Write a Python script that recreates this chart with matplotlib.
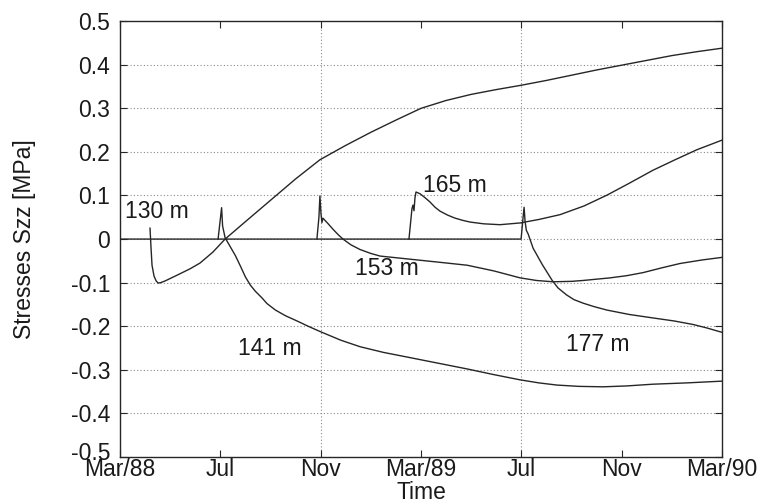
import matplotlib
matplotlib.use('Agg')
import matplotlib.pyplot as plt
from matplotlib.transforms import ScaledTranslation

plt.rcParams['font.family'] = ['Liberation Sans', 'DejaVu Sans']
plt.rcParams['font.size'] = 16.5

# x = months since March 1988
tick_pos = [0, 4, 8, 12, 16, 20, 24]
tick_labels = ['Mar/88', 'Jul', 'Nov', 'Mar/89', 'Jul', 'Nov', 'Mar/90']
ytick_vals = [-0.5, -0.4, -0.3, -0.2, -0.1, 0, 0.1, 0.2, 0.3, 0.4, 0.5]
ytick_labels = ['-0.5', '-0.4', '-0.3', '-0.2', '-0.1', '0', '0.1', '0.2', '0.3', '0.4', '0.5']

t130 = [1.196, 1.236, 1.276, 1.356, 1.44, 1.52, 1.62, 1.8, 2.27, 2.8, 3.19, 3.7, 4.19,
        5.0, 6.0, 7.0, 7.97, 9.0, 10.0, 11.0, 12.0, 13.0, 14.0, 15.0, 16.0,
        17.0, 18.0, 19.0, 20.0, 21.0, 22.0, 23.0, 24.0]
s130 = [0.025, -0.02, -0.06, -0.085, -0.096, -0.101, -0.1, -0.096, -0.083, -0.068, -0.055, -0.03, 0.0,
        0.04, 0.089, 0.138, 0.182, 0.215, 0.245, 0.273, 0.300, 0.318, 0.332, 0.343, 0.353,
        0.364, 0.376, 0.388, 0.399, 0.410, 0.421, 0.430, 0.438]

t141 = [3.91, 4.05, 4.09, 4.19, 4.4, 4.6, 4.8, 5.0, 5.2, 5.4, 5.66, 5.86, 6.2, 6.6,
        7.06, 7.5, 7.97, 8.8, 9.57, 10.5, 11.56, 12.7, 13.84, 14.9, 15.95, 16.7,
        17.42, 18.3, 19.26, 20.2, 21.25, 22.6, 24.0]
s141 = [0.0, 0.072, 0.03, 0.003, -0.018, -0.038, -0.062, -0.087, -0.106, -0.12, -0.135, -0.148, -0.163, -0.176,
        -0.188, -0.2, -0.212, -0.232, -0.247, -0.26, -0.272, -0.285, -0.298, -0.311, -0.323, -0.33,
        -0.335, -0.338, -0.339, -0.337, -0.333, -0.33, -0.326]

t153 = [7.85, 7.93, 7.97, 8.01, 8.05, 8.09, 8.17, 8.3, 8.5, 8.7, 8.89, 9.2, 9.57, 10.0,
        10.37, 11.7, 12.7, 13.84, 14.9, 15.95, 16.6, 17.26, 18.0, 18.46, 19.54, 20.2,
        20.85, 21.6, 22.33, 23.2, 24.0]
s153 = [0.0, 0.05, 0.099, 0.06, 0.038, 0.048, 0.043, 0.035, 0.022, 0.01, 0.0, -0.013, -0.024, -0.033,
        -0.039, -0.047, -0.053, -0.06, -0.073, -0.089, -0.095, -0.098, -0.097, -0.095, -0.089, -0.084,
        -0.077, -0.066, -0.056, -0.048, -0.042]

t165 = [11.52, 11.64, 11.68, 11.72, 11.76, 11.80, 11.96, 12.16, 12.36, 12.56, 12.76, 13.06,
        13.36, 13.66, 13.96, 14.5, 15.15, 15.95, 16.7, 17.54, 18.5, 19.42, 20.3, 21.25,
        22.13, 23.0, 24.0]
s165 = [0.0, 0.07, 0.078, 0.065, 0.095, 0.108, 0.104, 0.095, 0.085, 0.073, 0.064, 0.055,
        0.048, 0.043, 0.039, 0.035, 0.033, 0.037, 0.045, 0.056, 0.076, 0.101, 0.128, 0.158,
        0.182, 0.205, 0.227]

t177 = [0.0, 15.99, 16.07, 16.11, 16.15, 16.2, 16.27, 16.47, 16.83, 17.22, 17.46, 17.8,
        18.1, 18.46, 18.9, 19.42, 20.3, 21.25, 22.1, 22.85, 23.4, 24.0]
s177 = [0.0, 0.0, 0.05, 0.073, 0.04, 0.02, 0.012, -0.021, -0.058, -0.094, -0.112, -0.128,
        -0.139, -0.147, -0.155, -0.163, -0.173, -0.181, -0.188, -0.196, -0.204, -0.214]

fig = plt.figure(figsize=(7.62, 5.04), dpi=100)
ax = fig.add_axes([0.1575, 0.0933, 0.79, 0.8647])

grid_kw = dict(color='#8a8a8a', linestyle=(0, (1, 2)), linewidth=0.8, zorder=1)
for v in ytick_vals[1:-1]:
    ax.axhline(v, **grid_kw)
for v in [8, 16]:
    ax.axvline(v, **grid_kw)

line_kw = dict(color='#262626', linewidth=1.0, zorder=3)
for t, s in [(t130, s130), (t141, s141), (t153, s153), (t165, s165), (t177, s177)]:
    ax.plot(t, s, **line_kw)

txt_kw = dict(ha='center', va='center', color='#1a1a1a', fontsize=16.5)
ax.text(1.48, 0.064, '130 m', **txt_kw)
ax.text(5.98, -0.252, '141 m', **txt_kw)
ax.text(10.65, -0.067, '153 m', **txt_kw)
ax.text(13.36, 0.124, '165 m', **txt_kw)
ax.text(19.06, -0.243, '177 m', **txt_kw)

ax.set_xlim(0, 24)
ax.set_ylim(-0.5, 0.5)
ax.set_xticks(tick_pos)
ax.set_xticklabels(tick_labels)
ax.set_yticks(ytick_vals)
ax.set_yticklabels(ytick_labels)
ax.tick_params(direction='in', length=5, width=0.8, top=True, right=True,
               colors='#262626', labelcolor='#1a1a1a', labelsize=16.5)
ax.tick_params(axis='x', pad=1)
ax.tick_params(axis='y', pad=7)
for sp in ax.spines.values():
    sp.set_linewidth(1.0)
    sp.set_color('#262626')

# lift the bottom y label a little, as in the original
lbl = ax.get_yticklabels()[0]
lbl.set_transform(lbl.get_transform() + ScaledTranslation(0, 4 / 72, fig.dpi_scale_trans))

ax.set_xlabel('Time', fontsize=16.5, color='#1a1a1a')
ax.xaxis.set_label_coords(0.5, -0.054)
ax.xaxis.label.set_va('top')
ax.set_ylabel('Stresses Szz [MPa]', fontsize=16.5, color='#1a1a1a')
ax.yaxis.set_label_coords(-0.14, 0.5)

fig.savefig('out.png', dpi=100)
